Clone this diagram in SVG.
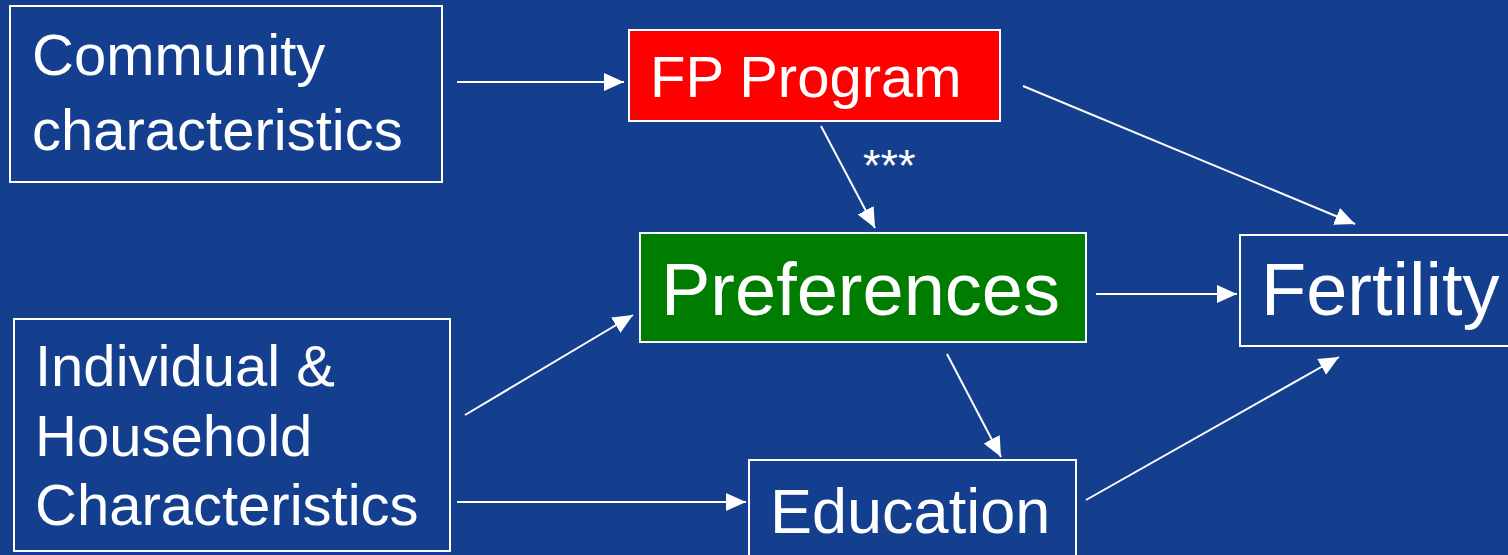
<svg xmlns="http://www.w3.org/2000/svg" width="1508" height="555" viewBox="0 0 1508 555">
<style>
.box{stroke:#ffffff;stroke-width:2}
.t{font-family:"Liberation Sans",Arial,sans-serif;fill:#ffffff}
.c{stroke:#ffffff;stroke-width:2;fill:none;marker-end:url(#ah)}
</style>
<defs>
<marker id="ah" markerUnits="userSpaceOnUse" markerWidth="22" markerHeight="20" refX="20" refY="9" orient="auto">
<path d="M0,0 L20,9 L0,18 Z" fill="#ffffff"/>
</marker>
</defs>
<rect width="1508" height="555" fill="#143F8E"/>
<g id="community">
<rect class="box" x="10" y="6" width="432" height="176" fill="#143F8E"/>
<text class="t" x="32" y="75" font-size="58">Community</text>
<text class="t" x="32" y="150" font-size="58">characteristics</text>
</g>
<g id="fp">
<rect class="box" x="629" y="30" width="371" height="91" fill="#FF0000"/>
<text class="t" x="650" y="97" font-size="58">FP Program</text>
</g>
<g id="preferences">
<rect class="box" x="640" y="233" width="446" height="109" fill="#007D00"/>
<text class="t" x="661" y="315" font-size="74">Preferences</text>
</g>
<g id="fertility">
<rect class="box" x="1240" y="235" width="290" height="111" fill="#143F8E"/>
<text class="t" x="1261" y="315" font-size="74">Fertility</text>
</g>
<g id="individual">
<rect class="box" x="14" y="319" width="436" height="232" fill="#143F8E"/>
<text class="t" x="35" y="386" font-size="58">Individual &amp;</text>
<text class="t" x="35" y="456" font-size="58">Household</text>
<text class="t" x="35" y="525" font-size="58">Characteristics</text>
</g>
<g id="education">
<rect class="box" x="749" y="460" width="327" height="110" fill="#143F8E"/>
<text class="t" x="770" y="533" font-size="63">Education</text>
</g>
<g id="connectors">
<line class="c" x1="457" y1="82" x2="624" y2="82"/>
<line class="c" x1="821" y1="126" x2="875" y2="228"/>
<line class="c" x1="1023" y1="86" x2="1355" y2="224"/>
<line class="c" x1="1096" y1="294" x2="1237" y2="294"/>
<line class="c" x1="465" y1="415" x2="633" y2="315"/>
<line class="c" x1="947" y1="354" x2="1001" y2="457"/>
<line class="c" x1="457" y1="502" x2="746" y2="502"/>
<line class="c" x1="1086" y1="500" x2="1339" y2="357"/>
<text class="t" x="863" y="181" font-size="45">***</text>
</g>
</svg>
